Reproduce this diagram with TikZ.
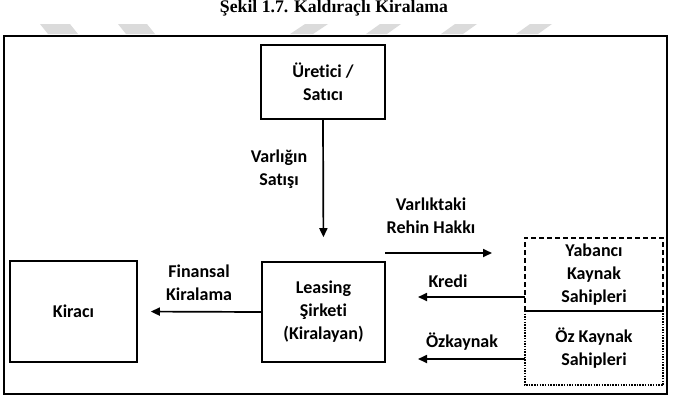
\documentclass[tikz,border=0pt]{standalone}
\usepackage{graphicx}
\usepackage{fontspec}
\setmainfont[Ligatures=NoCommon]{Carlito}
\newfontfamily\titlefont{Liberation Serif}
\usetikzlibrary{arrows.meta,calc}
\definecolor{wm}{gray}{0.86}
\tikzset{
  box/.style={draw, line width=1.6pt, inner sep=0pt, align=center, font=\fontsize{18}{23}\selectfont\bfseries},
  lbl/.style={inner sep=0pt, align=center, font=\fontsize{18}{23}\selectfont\bfseries},
  arr/.style={line width=1.7pt, -{Triangle[length=9pt,width=8pt]}},
  stripe/.style={fill=wm, draw=none}
}
\begin{document}
\begin{tikzpicture}[x=1pt,y=-1pt]
\useasboundingbox (0,0) rectangle (674,400);
% title
\node[anchor=base, inner sep=0pt] (title) at (334,12.5) {\resizebox{228pt}{!}{\titlefont\bfseries Şekil 1.7. Kaldıraçlı Kiralama}};
% watermark stripes
\fill[stripe] (40,24) -- (70,24) -- (78,34) -- (48,34) -- cycle;
\fill[stripe] (118,24) -- (147,24) -- (155,34) -- (126,34) -- cycle;
\fill[stripe] (305,24) -- (328,24) -- (313,34) -- (290,34) -- cycle;
\fill[stripe] (380,24) -- (401,24) -- (387,34) -- (366,34) -- cycle;
\fill[stripe] (455,24) -- (477,24) -- (463,34) -- (441,34) -- cycle;
\fill[stripe] (530,24) -- (552,24) -- (538,34) -- (516,34) -- cycle;
% frame
\draw[line width=1.6pt] (4,36) rectangle (667,394);
% boxes
\node[box, minimum width=124pt, minimum height=74pt] (ureti) at (323,82) {Üretici /\\Satıcı};
\node[box, minimum width=123pt, minimum height=100pt] (leasing) at (323.5,312) {Leasing\\Şirketi\\(Kiralayan)};
\node[box, minimum width=127pt, minimum height=101pt] (kiraci) at (73.5,311.5) {Kiracı};
\node[lbl, minimum width=138pt, minimum height=73pt] (yabanci) at (594,274.5) {Yabancı\\Kaynak\\Sahipleri};
\node[lbl, minimum width=138pt, minimum height=74pt] (oz) at (594,348) {Öz Kaynak\\Sahipleri};
\draw[line width=1.5pt, dash pattern=on 5pt off 3pt] (yabanci.south west) -- (yabanci.north west) -- (yabanci.north east) -- (yabanci.south east);
\draw[line width=1.5pt] (yabanci.south west) -- (yabanci.south east);
\draw[line width=1.5pt, dash pattern=on 1.5pt off 1.2pt] (oz.north west) -- (oz.south west) -- (oz.south east) -- (oz.north east);
% connectors
\draw[arr, shorten >=24pt] (ureti.south) -- (leasing.north);
\node[lbl] (l1) at (279,169) {Varlığın\\Satışı};
\draw[arr, shorten >=13pt] (leasing.west) -- (kiraci.east);
\node[lbl] (l2) at (199,283) {Finansal\\Kiralama};
\coordinate (r1) at (385,253);
\coordinate (r2) at (492,253);
\draw[arr] (r1) -- (r2);
\node[lbl] (l3) at (431,216) {Varlıktaki\\Rehin Hakkı};
\coordinate (k1) at (525,297);
\coordinate (k2) at (418,297);
\draw[arr] (k1) -- (k2);
\node[lbl] (l4) at (448,281) {Kredi};
\coordinate (o1) at (525,359);
\coordinate (o2) at (418,359);
\draw[arr] (o1) -- (o2);
\node[lbl] (l5) at (462,342) {Özkaynak};
\end{tikzpicture}
\end{document}
